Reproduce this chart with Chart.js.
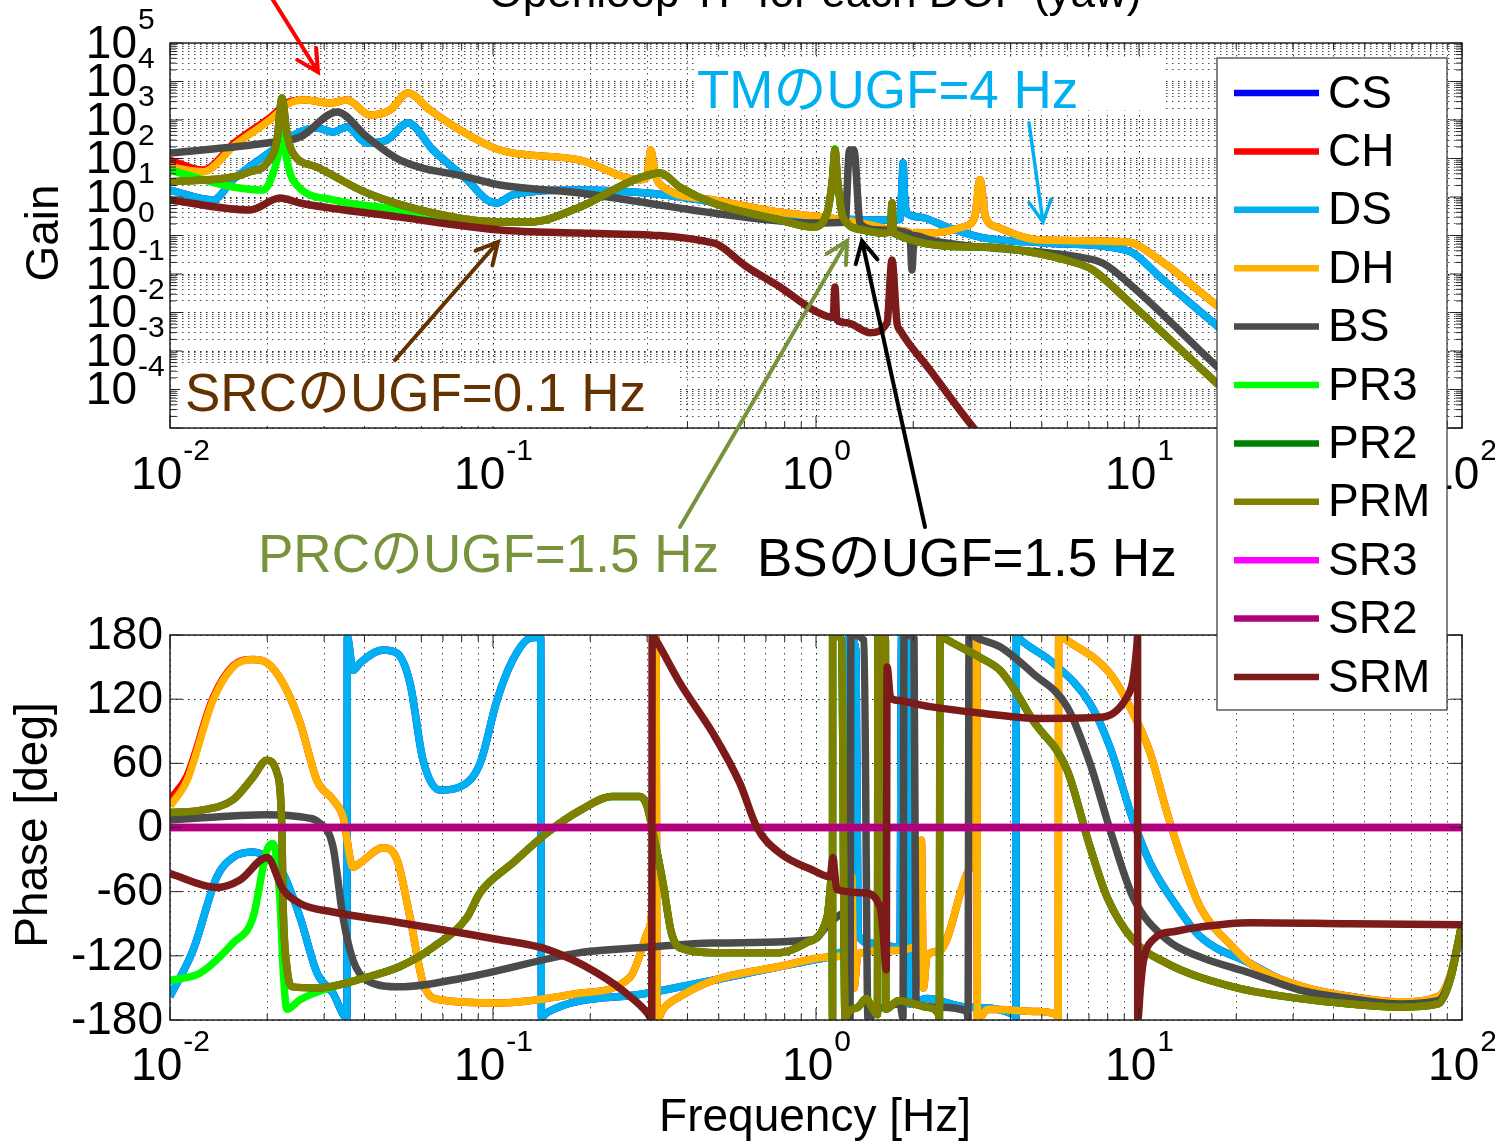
<!DOCTYPE html>
<html>
<head>
<meta charset="utf-8">
<script src="https://cdn.jsdelivr.net/npm/chart.js@4.4.1/dist/chart.umd.min.js"></script>
<style>
  body { margin: 0; background: #fff; }
  #wrap { position: relative; width: 1495px; height: 1144px; }
  #wrap canvas { position: absolute; left: 0; top: 0; }
</style>
</head>
<body>
<div id="wrap">
  <canvas id="gainChart" width="1495" height="1144"></canvas>
  <canvas id="phaseChart" width="1495" height="1144"></canvas>
</div>
<script>
// --- DOF names and colours (MATLAB order) ---
var names = ['CS', 'CH', 'DS', 'DH', 'BS', 'PR3', 'PR2', 'PRM', 'SR3', 'SR2', 'SRM'];
var colors = ['#0000ff', '#ff0000', '#00b0f0', '#ffb200', '#4b4b4b', '#00ff00', '#008000', '#808000', '#ff00ff', '#b0007a', '#7d1a1a'];

var freqMin = 0.01, freqMax = 100;
var gainMin = 1e-5, gainMax = 1e5;
var freqTickExp = [-2, -1, 0, 1, 2];
var gainTickExp = [5, 4, 3, 2, 1, 0, -1, -2, -3, -4];
var phaseTicks = [-180, -120, -60, 0, 60, 120, 180];

// --- gain [Hz, |G|] ---
var gainDS = [[0.01,15],[0.01359,8.4],[0.01567,28],[0.02084,166],[0.02527,488],[0.02852,620],[0.03196,488],[0.03532,658],
  [0.04073,253],[0.04697,303],[0.05456,836],[0.06521,166],[0.0831,28],[0.0958,8.4],[0.1029,7.0],[0.1153,11.3],[0.1859,15.2],
  [0.2998,12.7],[0.3793,10],[0.9788,3.0],[1.695,2.53],[1.82,2.6],[1.85,30],[1.86,76],[1.88,10],[1.913,3.84],[2.099,3.0],
  [2.545,1.66],[3.219,0.91],[5.043,0.64],[8.132,0.50],[9.58,0.35],[11.6,0.0836],[16.6,0.0064],[100,1.5e-8]];
var gainCS = gainDS; // hidden under DS
var gainDH = [[0.01,60],[0.01265,45],[0.01589,224],[0.0204,1000],[0.02353,2770],[0.02618,3300],[0.03129,2770],[0.03532,3300],
  [0.04161,1350],[0.04799,1820],[0.05456,5020],[0.0638,1820],[0.079,550],[0.105,166],[0.1859,91],[0.2852,28],[0.2998,33],
  [0.308,166],[0.3174,40],[0.3408,17],[0.4799,8.4],[0.7735,4.0],[1.105,2.85],[1.578,1.66],[1.695,1.39],[1.95,1.2],[1.99,0.35],
  [2.03,1.2],[2.254,1.16],[2.852,1.66],[3.1,3.0],[3.219,28],[3.35,3.0],[3.634,1.66],[4.936,0.76],[9.18,0.68],[11.6,0.23],
  [16.6,0.0211],[100,1.3e-7]];
var gainCH = [[0.01,90],[0.01265,50],[0.01589,260],[0.0204,1150],[0.02353,3000],[0.02618,3300],[0.03129,2770],[0.03532,3300],
  [0.04161,1350],[0.04799,1820],[0.05456,5020],[0.0638,1820],[0.079,550],[0.105,166],[0.1859,91],[0.2852,28],[0.2998,33],
  [0.308,166],[0.3174,40],[0.3408,17],[0.4799,8.4],[0.7735,4.0],[1.105,2.85],[1.578,1.66],[1.695,1.39],[1.95,1.2],[1.99,0.35],
  [2.03,1.2],[2.254,1.16],[2.852,1.66],[3.1,3.0],[3.219,28],[3.35,3.0],[3.634,1.66],[4.936,0.76],[9.18,0.68],[11.6,0.23],
  [16.6,0.0211],[100,1.3e-7]];
var gainBS = [[0.01,139],[0.01997,253],[0.02527,361],[0.03289,1615],[0.04073,361],[0.0515,91],[0.0831,33],[0.105,20.5],
  [0.1859,12.7],[0.2998,7.0],[0.4799,3.84],[0.9788,2.11],[1.23,2.2],[1.27,166],[1.31,166],[1.37,2.0],[1.578,1.39],[1.954,1.1],
  [1.982,0.127],[2.011,1.0],[2.254,0.76],[2.792,0.57],[6.427,0.28],[7.735,0.19],[9.58,0.046],[16.6,5.8e-4],[100,4e-10]];
var gainPR3 = [[0.01,50],[0.01567,18.2],[0.0194,15.2],[0.02144,91],[0.02222,459],[0.023,91],[0.024,28],[0.03196,8.4],
  [0.0515,4.6],[0.06521,3.0],[0.105,2.24],[0.1302,2.24],[0.1859,5.5],[0.2656,25],[0.3289,42],[0.3793,18],[0.4799,7.0],
  [0.7735,2.53],[0.9788,1.66],[1.082,3.84],[1.125,30],[1.145,180],[1.165,30],[1.212,3.0],[1.398,1.39],[1.612,1.16],[1.7,1.25],
  [1.719,7.0],[1.74,1.15],[3.219,0.50],[6.427,0.19],[7.2,0.127],[9.18,0.0211],[16.6,2.1e-4],[100,1.8e-10]];
var gainPRM = [[0.01,25],[0.01567,33],[0.01767,45],[0.01997,76],[0.02144,303],[0.02222,3700],[0.023,459],[0.024,139],
  [0.02852,60],[0.04073,12.7],[0.06521,3.84],[0.105,2.24],[0.1302,2.24],[0.1859,5.5],[0.2656,25],[0.3289,42],[0.3793,18],
  [0.4799,7.0],[0.7735,2.53],[0.9788,1.66],[1.082,3.84],[1.125,30],[1.145,166],[1.165,30],[1.212,3.0],[1.398,1.39],[1.612,1.16],
  [1.7,1.25],[1.719,7.0],[1.74,1.15],[3.219,0.50],[6.427,0.19],[7.2,0.127],[9.18,0.0211],[16.6,2.1e-4],[100,1.8e-10]];
var gainPR2 = gainPRM; // hidden under PRM
var gainSR3 = [];
var gainSR2 = [];
var gainSRM = [[0.01,8.4],[0.01769,4.6],[0.0219,9.4],[0.02527,7.0],[0.0515,3.0],[0.105,1.39],[0.1859,1.16],[0.4799,0.64],
  [0.6114,0.152],[0.7735,0.046],[0.98,0.0116],[1.105,0.0076],[1.13,0.0075],[1.145,0.046],[1.16,0.0065],[1.247,0.0054],
  [1.47,0.003],[1.659,0.0054],[1.719,0.23],[1.781,0.0054],[1.82,0.0035],[2.254,3.2e-4],[3.063,1.06e-5],[5,1e-7]];

// --- phase [Hz, deg] ---
var phaseDS = [[0.01,-158],[0.01178,-115],[0.01398,-46],[0.01567,-28],[0.01807,-23],[0.01997,-28],[0.02238,-43],[0.02527,-84],
  [0.02852,-136],[0.03196,-155],[0.0353,-178],[0.0354,178],[0.03686,147],[0.0388,154],[0.04565,166],[0.05043,163],[0.05534,135],
  [0.06072,63],[0.0685,35],[0.079,38],[0.0912,60],[0.1029,119],[0.1153,157],[0.1302,177],[0.1405,178],[0.1412,-178],[0.147,-173],
  [0.2998,-155],[0.979,-124],[1.105,-121],[1.23,-116],[1.256,-179],[1.265,179],[1.33,165],[1.35,-100],[1.47,-108],[1.82,-112],
  [1.84,178],[1.93,178],[1.95,-165],[2.2,-160],[2.935,-168],[4.15,-176],[4.16,-180],[4.17,180],[4.282,176],[5.417,154],[7.05,116],
  [8.132,75],[9.58,7],[10.82,-33],[13.11,-74],[15.45,-102],[22.07,-127],[31.5,-150],[45,-158],[64.3,-164],[84.3,-160],[92,-140],[100,-90]];
var phaseCS = phaseDS;
var phaseDH = [[0.01,20],[0.01129,44],[0.01359,119],[0.01567,150],[0.01807,157],[0.01997,154],[0.02238,135],[0.02527,98],
  [0.02852,44],[0.03196,26],[0.03433,10],[0.03686,-37],[0.0388,-33],[0.04565,-19],[0.05043,-30],[0.05534,-84],[0.06072,-145],
  [0.0685,-161],[0.105,-164],[0.186,-155],[0.2656,-140],[0.2998,-99],[0.313,-60],[0.3174,60],[0.3196,180],[0.3219,-180],
  [0.336,-170],[0.3793,-158],[0.4799,-143],[0.7735,-130],[1.105,-121],[1.27,-118],[1.29,-45],[1.31,-150],[1.35,-118],[1.695,-115],
  [2.099,-108],[2.12,-12],[2.15,-150],[2.206,-120],[2.42,-115],[2.935,-43],[3.106,10],[3.15,180],[3.16,-180],[3.4,-170],[4.9,-172],
  [5.6,-176],[5.62,-180],[5.64,180],[5.986,175],[8.132,144],[9.58,107],[10.82,70],[12.21,14],[13.69,-33],[15.45,-74],[19.54,-112],
  [22.07,-127],[31.5,-148],[45,-158],[64.3,-163],[84.3,-158],[92,-138],[100,-90]];
var phaseCH = [[0.01,26],[0.01129,48],[0.01359,121],[0.01567,151],[0.01807,157],[0.01997,154],[0.02238,135],[0.02527,98],
  [0.02852,44],[0.03196,26],[0.03433,10],[0.03686,-37],[0.0388,-33],[0.04565,-19],[0.05043,-30],[0.05534,-84],[0.06072,-145],
  [0.0685,-161],[0.105,-164],[0.186,-155],[0.2656,-140],[0.2998,-99],[0.313,-60],[0.3174,60],[0.3196,180],[0.3219,-180],
  [0.336,-170],[0.3793,-158],[0.4799,-143],[0.7735,-130],[1.105,-121],[1.27,-118],[1.29,-45],[1.31,-150],[1.35,-118],[1.695,-115],
  [2.099,-108],[2.12,-12],[2.15,-150],[2.206,-120],[2.42,-115],[2.935,-43],[3.106,10],[3.15,180],[3.16,-180],[3.4,-170],[4.9,-172],
  [5.6,-176],[5.62,-180],[5.64,180],[5.986,175],[8.132,144],[9.58,107],[10.82,70],[12.21,14],[13.69,-33],[15.45,-74],[19.54,-112],
  [22.07,-127],[31.5,-148],[45,-158],[64.3,-163],[84.3,-158],[92,-138],[100,-90]];
var phaseBS = [[0.01,7],[0.01997,12],[0.02527,10],[0.0291,4],[0.03196,-18],[0.03433,-84],[0.03686,-124],[0.04073,-143],
  [0.0515,-149],[0.0831,-140],[0.186,-117],[0.2998,-112],[0.4799,-108],[0.979,-105],[1.105,-89],[1.23,-80],[1.265,-150],
  [1.274,-180],[1.283,180],[1.408,175],[1.449,-180],[1.523,-172],[1.82,-165],[1.859,-178],[1.873,180],[2.011,178],[2.04,-165],
  [2.42,-168],[2.935,-172],[2.956,-180],[2.977,180],[3.219,176],[3.713,169],[4.697,144],[5.986,113],[7.05,60],[8.132,-2],
  [9.58,-65],[12.21,-105],[15.45,-121],[22.07,-136],[31.5,-152],[45,-160],[64.3,-165],[84.3,-162],[92,-140],[100,-90]];
var phasePR3 = [[0.01,-143],[0.0124,-136],[0.01567,-108],[0.01807,-84],[0.01997,-21],[0.02084,-15],[0.0219,-68],[0.02238,-130],
  [0.023,-170],[0.02527,-161],[0.03196,-149],[0.04073,-140],[0.0515,-130],[0.06521,-112],[0.0831,-84],[0.0912,-61],[0.1153,-33],
  [0.147,-5],[0.186,16],[0.234,29],[0.285,29],[0.2998,20],[0.313,-5],[0.336,-52],[0.357,-99],[0.392,-114],[0.4799,-117],
  [0.7735,-117],[0.93,-108],[1.082,-84],[1.105,-60],[1.12,-40],[1.125,-180],[1.126,180],[1.2,176],[1.23,-178],[1.26,-172],
  [1.35,-168],[1.43,-160],[1.5,-170],[1.55,-175],[1.555,180],[1.64,178],[1.645,-170],[1.8,-162],[2.2,-168],[2.4,-175],
  [2.41,-180],[2.42,180],[2.47,178],[3.219,159],[3.713,147],[4.073,131],[4.697,100],[5.986,54],[7.05,-18],[7.96,-65],[9.58,-105],
  [12.21,-127],[19.54,-149],[31.5,-160],[45,-165],[64.3,-168],[84.3,-165],[92,-142],[100,-90]];
var phasePRM = [[0.01,14],[0.0124,16],[0.01567,26],[0.01807,47],[0.01997,63],[0.02144,51],[0.02222,-5],[0.02238,-68],
  [0.023,-130],[0.024,-149],[0.02852,-150],[0.04073,-140],[0.0515,-130],[0.06521,-112],[0.0831,-84],[0.0912,-61],[0.1153,-33],
  [0.147,-5],[0.186,16],[0.234,29],[0.285,29],[0.2998,20],[0.313,-5],[0.336,-52],[0.357,-99],[0.392,-114],[0.4799,-117],
  [0.7735,-117],[0.93,-108],[1.082,-84],[1.105,-60],[1.12,-40],[1.125,-180],[1.126,180],[1.2,176],[1.23,-178],[1.26,-172],
  [1.35,-168],[1.43,-160],[1.5,-170],[1.55,-175],[1.555,180],[1.64,178],[1.645,-170],[1.8,-162],[2.2,-168],[2.4,-175],
  [2.41,-180],[2.42,180],[2.47,178],[3.219,159],[3.713,147],[4.073,131],[4.697,100],[5.986,54],[7.05,-18],[7.96,-65],[9.58,-105],
  [12.21,-127],[19.54,-149],[31.5,-160],[45,-165],[64.3,-168],[84.3,-165],[92,-142],[100,-90]];
var phasePR2 = phasePRM;
var phaseSR3 = [[0.01,0],[100,0]];
var phaseSR2 = [[0.01,0],[100,0]];
var phaseSRM = [[0.01,-43],[0.01398,-56],[0.01647,-49],[0.01997,-28],[0.02238,-58],[0.02527,-71],[0.03196,-79],[0.0515,-89],
  [0.105,-105],[0.147,-114],[0.21,-136],[0.2656,-158],[0.3063,-177],[0.31,-180],[0.311,180],[0.3196,175],[0.3793,135],[0.4799,88],
  [0.5818,41],[0.6566,0],[0.7735,-24],[0.9788,-40],[1.105,-46],[1.129,-28],[1.145,-45],[1.161,-58],[1.398,-61],[1.578,-74],
  [1.612,-96],[1.65,-133],[1.66,150],[1.7,122],[1.781,119],[2.254,113],[3.219,107],[4.936,102],[7.571,103],[9.18,122],[9.58,138],
  [9.86,172],[9.9,180],[9.91,-180],[10.1,-150],[10.29,-127],[11.05,-105],[13,-97],[15.45,-93],[22.07,-89],[45,-90],[100,-91]];

var gainList = [gainCS, gainCH, gainDS, gainDH, gainBS, gainPR3, gainPR2, gainPRM, gainSR3, gainSR2, gainSRM];
var phaseList = [phaseCS, phaseCH, phaseDS, phaseDH, phaseBS, phasePR3, phasePR2, phasePRM, phaseSR3, phaseSR2, phaseSRM];

var FONT = "'Liberation Sans', Arial, 'Noto Sans CJK JP', sans-serif";

function makeSets(list) {
  return list.map(function (arr, i) {
    return {
      label: names[i],
      data: arr.map(function (p) { return { x: p[0], y: p[1] }; }),
      borderColor: colors[i],
      backgroundColor: colors[i],
      borderWidth: 7.5,
      pointRadius: 0,
      cubicInterpolationMode: 'monotone',
      fill: false,
      borderJoinStyle: 'bevel',
      order: names.length - i
    };
  });
}

function logTicks(lo, hi) {
  var t = [];
  for (var e = lo; e < hi; e++) {
    for (var m = 1; m < 10; m++) t.push({ value: m * Math.pow(10, e) });
  }
  t.push({ value: Math.pow(10, hi) });
  return t;
}
function isMajor(v) {
  var l = Math.log10(v);
  return Math.abs(l - Math.round(l)) < 1e-6;
}
function gridColor(c) {
  if (!c.tick) return 'rgba(0,0,0,0.7)';
  return isMajor(c.tick.value) ? 'rgba(0,0,0,0.9)' : 'rgba(0,0,0,0.7)';
}

function xScaleOpts() {
  return {
    type: 'logarithmic', min: freqMin, max: freqMax,
    afterBuildTicks: function (s) { s.ticks = logTicks(-2, 2); },
    afterFit: function (s) { s.height = 0; },
    ticks: { display: false },
    grid: { color: gridColor, lineWidth: 1, drawTicks: false },
    border: { display: false, dash: [1.5, 4.5] }
  };
}

// --- drawing helpers ---
function drawPow(ctx, exp, x, y, align) {
  ctx.font = '46px ' + FONT;
  var bw = ctx.measureText('10').width;
  ctx.font = '30px ' + FONT;
  var ew = ctx.measureText(exp).width;
  var left = align === 'right' ? x - bw : x - (bw + ew) / 2;
  ctx.fillStyle = '#000';
  ctx.textAlign = 'left';
  ctx.textBaseline = 'middle';
  ctx.font = '46px ' + FONT;
  ctx.fillText('10', left, y);
  ctx.font = '30px ' + FONT;
  ctx.fillText(exp, left + bw + 1, y - 24);
}

function drawFrameAndXTicks(ctx, a, xs) {
  ctx.save();
  ctx.strokeStyle = '#222';
  ctx.lineWidth = 1.5;
  ctx.strokeRect(a.left, a.top, a.right - a.left, a.bottom - a.top);
  ctx.lineWidth = 1;
  logTicks(-2, 2).forEach(function (t) {
    var px = xs.getPixelForValue(t.value);
    var len = isMajor(t.value) ? 12 : 6;
    ctx.beginPath();
    ctx.moveTo(px, a.bottom); ctx.lineTo(px, a.bottom - len);
    ctx.moveTo(px, a.top); ctx.lineTo(px, a.top + len);
    ctx.stroke();
  });
  ctx.restore();
}

function arrow(ctx, x1, y1, x2, y2, color, w) {
  var ang = Math.atan2(y2 - y1, x2 - x1), hl = 24, ha = Math.PI / 6.5;
  ctx.save();
  ctx.strokeStyle = color;
  ctx.lineWidth = w;
  ctx.lineCap = 'round';
  ctx.beginPath();
  ctx.moveTo(x1, y1); ctx.lineTo(x2, y2);
  ctx.moveTo(x2 - hl * Math.cos(ang - ha), y2 - hl * Math.sin(ang - ha));
  ctx.lineTo(x2, y2);
  ctx.lineTo(x2 - hl * Math.cos(ang + ha), y2 - hl * Math.sin(ang + ha));
  ctx.stroke();
  ctx.restore();
}

var gainDecor = {
  id: 'gainDecor',
  afterDraw: function (chart) {
    var ctx = chart.ctx, a = chart.chartArea, xs = chart.scales.x, ys = chart.scales.y;
    drawFrameAndXTicks(ctx, a, xs);
    ctx.save();
    ctx.strokeStyle = '#222';
    ctx.lineWidth = 1;
    logTicks(-5, 5).forEach(function (t) {
      var py = ys.getPixelForValue(t.value);
      var len = isMajor(t.value) ? 12 : 6;
      ctx.beginPath();
      ctx.moveTo(a.left, py); ctx.lineTo(a.left + len, py);
      ctx.moveTo(a.right, py); ctx.lineTo(a.right - len, py);
      ctx.stroke();
    });
    ctx.restore();
    gainTickExp.forEach(function (e) {
      drawPow(ctx, String(e), 137, ys.getPixelForValue(Math.pow(10, e)) + 2, 'right');
    });
    freqTickExp.forEach(function (e) {
      drawPow(ctx, String(e), xs.getPixelForValue(Math.pow(10, e)), a.bottom + 48, 'center');
    });
    ctx.save();
    ctx.fillStyle = '#000';
    ctx.font = '46px ' + FONT;
    ctx.textAlign = 'center';
    ctx.textBaseline = 'middle';
    ctx.translate(45, 233);
    ctx.rotate(-Math.PI / 2);
    ctx.fillText('Gain', 0, 0);
    ctx.restore();
    ctx.save();
    ctx.fillStyle = '#000';
    ctx.font = '44px ' + FONT;
    ctx.textAlign = 'center';
    ctx.textBaseline = 'alphabetic';
    ctx.fillText('Openloop TF for each DOF (yaw)', 815, 7);
    ctx.restore();
  }
};

var phaseDecor = {
  id: 'phaseDecor',
  afterDraw: function (chart) {
    var ctx = chart.ctx, a = chart.chartArea, xs = chart.scales.x, ys = chart.scales.y;
    drawFrameAndXTicks(ctx, a, xs);
    ctx.save();
    ctx.strokeStyle = '#222';
    ctx.lineWidth = 1;
    ctx.fillStyle = '#000';
    ctx.font = '46px ' + FONT;
    ctx.textAlign = 'right';
    ctx.textBaseline = 'middle';
    phaseTicks.forEach(function (v) {
      var py = ys.getPixelForValue(v);
      ctx.beginPath();
      ctx.moveTo(a.left, py); ctx.lineTo(a.left + 12, py);
      ctx.moveTo(a.right, py); ctx.lineTo(a.right - 12, py);
      ctx.stroke();
      ctx.fillText(String(v), 163, py + 1);
    });
    ctx.restore();
    freqTickExp.forEach(function (e) {
      drawPow(ctx, String(e), xs.getPixelForValue(Math.pow(10, e)), a.bottom + 47, 'center');
    });
    ctx.save();
    ctx.fillStyle = '#000';
    ctx.font = '46px ' + FONT;
    ctx.textAlign = 'center';
    ctx.textBaseline = 'middle';
    ctx.fillText('Frequency [Hz]', 815, 1118);
    ctx.translate(34, 825);
    ctx.rotate(-Math.PI / 2);
    ctx.fillText('Phase [deg]', 0, 0);
    ctx.restore();

    // legend
    ctx.save();
    ctx.fillStyle = '#fff';
    ctx.fillRect(1217, 58, 230, 652);
    ctx.strokeStyle = '#333';
    ctx.lineWidth = 1.2;
    ctx.strokeRect(1217, 58, 230, 652);
    ctx.font = '46px ' + FONT;
    ctx.textAlign = 'left';
    ctx.textBaseline = 'middle';
    names.forEach(function (n, i) {
      var y = 93 + i * 58.4;
      ctx.strokeStyle = colors[i];
      ctx.lineWidth = 6.5;
      ctx.beginPath();
      ctx.moveTo(1234, y); ctx.lineTo(1319, y);
      ctx.stroke();
      ctx.fillStyle = '#000';
      ctx.fillText(n, 1328, y + 2);
    });
    ctx.restore();

    // annotations
    ctx.save();
    ctx.fillStyle = '#fff';
    ctx.fillRect(695, 57, 468, 53);
    ctx.fillRect(180, 363, 500, 63);
    ctx.font = '53px ' + FONT;
    ctx.textAlign = 'left';
    ctx.textBaseline = 'middle';
    ctx.fillStyle = '#00b0f0';
    ctx.fillText('TMのUGF=4 Hz', 697, 93);
    ctx.fillStyle = '#643200';
    ctx.fillText('SRCのUGF=0.1 Hz', 185, 396);
    ctx.fillStyle = '#77933c';
    ctx.fillText('PRCのUGF=1.5 Hz', 258, 557);
    ctx.fillStyle = '#000';
    ctx.fillText('BSのUGF=1.5 Hz', 757, 561);
    ctx.restore();
    arrow(ctx, 268, -8, 318, 72, '#ff0000', 4);
    arrow(ctx, 1029, 123, 1043, 222, '#00b0f0', 3.5);
    arrow(ctx, 395, 360, 498, 242, '#643200', 4);
    arrow(ctx, 680, 527, 847, 241, '#77933c', 4);
    arrow(ctx, 925, 527, 862, 241, '#000', 4);
  }
};

Chart.defaults.animation = false;

new Chart(document.getElementById('gainChart').getContext('2d'), {
  type: 'line',
  data: { datasets: makeSets(gainList) },
  options: {
    responsive: false,
    events: [],
    layout: { padding: { left: 170, top: 43, right: 33, bottom: 716 } },
    plugins: { legend: { display: false }, tooltip: { enabled: false }, title: { display: false } },
    scales: {
      x: xScaleOpts(),
      y: {
        type: 'logarithmic', min: gainMin, max: gainMax,
        afterBuildTicks: function (s) { s.ticks = logTicks(-5, 5); },
        afterFit: function (s) { s.width = 0; },
        ticks: { display: false },
        grid: { color: gridColor, lineWidth: 1, drawTicks: false },
        border: { display: false, dash: [1.5, 4.5] }
      }
    }
  },
  plugins: [gainDecor]
});

new Chart(document.getElementById('phaseChart').getContext('2d'), {
  type: 'line',
  data: { datasets: makeSets(phaseList) },
  options: {
    responsive: false,
    events: [],
    layout: { padding: { left: 170, top: 635, right: 33, bottom: 124 } },
    plugins: { legend: { display: false }, tooltip: { enabled: false }, title: { display: false } },
    scales: {
      x: xScaleOpts(),
      y: {
        type: 'linear', min: -180, max: 180,
        ticks: { display: false, stepSize: 60 },
        afterFit: function (s) { s.width = 0; },
        grid: { color: 'rgba(0,0,0,0.9)', lineWidth: 1, drawTicks: false },
        border: { display: false, dash: [1.5, 4.5] }
      }
    }
  },
  plugins: [phaseDecor]
});
</script>
</body>
</html>
